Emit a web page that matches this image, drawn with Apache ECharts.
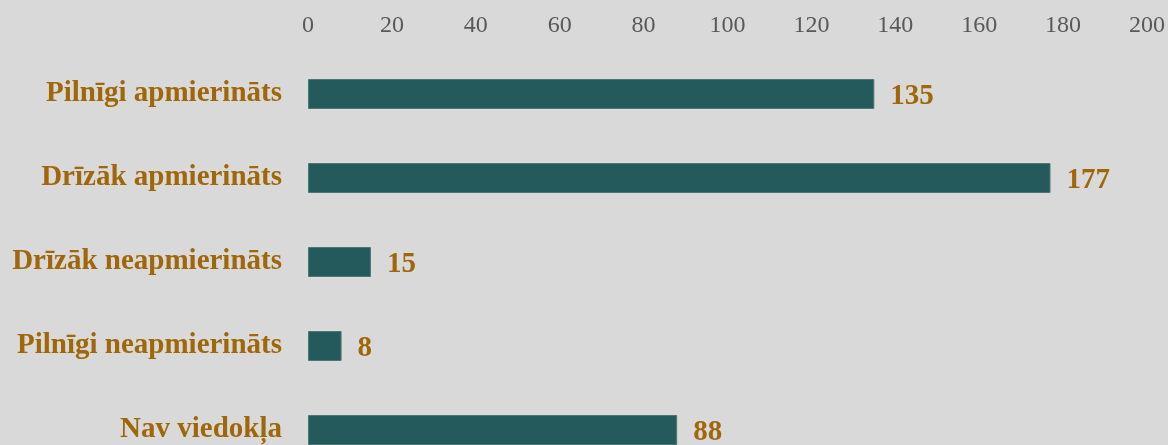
<!DOCTYPE html>
<html>
<head>
<meta charset="utf-8">
<script src="https://cdn.jsdelivr.net/npm/echarts@6/dist/echarts.min.js"></script>
<style>
  html, body { margin: 0; padding: 0; background: #d9d9d9; overflow: hidden; }
  /* the last bar is cut by the window edge in the original, so the chart is taller than the view */
  #chart { width: 1168px; height: 472px; }
</style>
</head>
<body>
<div id="chart"></div>
<script>
// atbilžu kategorijas (no augšas uz leju)
var categories = ['Pilnīgi apmierināts', 'Drīzāk apmierināts', 'Drīzāk neapmierināts', 'Pilnīgi neapmierināts', 'Nav viedokļa'];
var counts = [135, 177, 15, 8, 88];
var axisTicks = [0, 20, 40, 60, 80, 100, 120, 140, 160, 180, 200];

var chart = echarts.init(document.getElementById('chart'));
var option = {
  backgroundColor: '#d9d9d9',
  animation: false,
  grid: { left: 308, top: 52, right: 20, bottom: 0, containLabel: false },
  xAxis: {
    type: 'value',
    position: 'top',
    min: axisTicks[0],
    max: axisTicks[axisTicks.length - 1],
    interval: 20,
    axisLine: { show: false },
    axisTick: { show: false },
    splitLine: { show: false },
    axisLabel: {
      color: '#595959',
      fontFamily: 'Liberation Serif',
      fontSize: 24,
      margin: 14
    }
  },
  yAxis: {
    type: 'category',
    inverse: true,
    data: categories,
    axisLine: { show: false },
    axisTick: { show: false },
    axisLabel: {
      color: '#a0670a',
      fontFamily: 'Liberation Serif',
      fontWeight: 'bold',
      fontSize: 29,
      margin: 26,
      padding: [6, 0, 0, 0]
    }
  },
  series: [{
    type: 'bar',
    data: counts,
    barWidth: 30,
    itemStyle: { color: '#245a5c', borderColor: '#4f7677', borderWidth: 1 },
    label: {
      show: true,
      position: 'right',
      distance: 16,
      offset: [0, 3],
      color: '#a0670a',
      fontFamily: 'Liberation Serif',
      fontWeight: 'bold',
      fontSize: 29
    }
  }]
};
chart.setOption(option);
</script>
</body>
</html>
